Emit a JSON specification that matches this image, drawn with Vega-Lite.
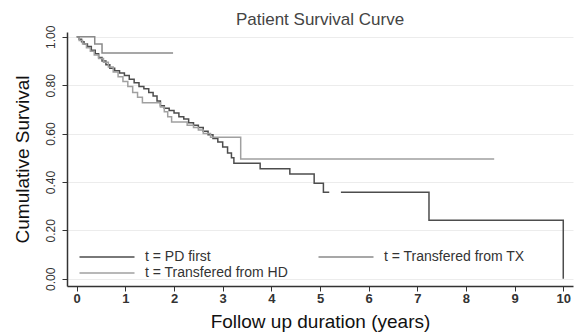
{
  "$schema": "https://vega.github.io/schema/vega-lite/v6.json",
  "autosize": "none",
  "padding": {"left": 67, "top": 32, "right": 6, "bottom": 49},
  "width": 506,
  "height": 254,
  "background": "white",
  "config": {
    "font": "Liberation Sans",
    "view": {"stroke": null}
  },
  "title": {
    "text": "Patient Survival Curve",
    "fontSize": 17,
    "fontWeight": "normal",
    "color": "#444444",
    "anchor": "middle",
    "offset": -4
  },
  "data": {
    "values": [
      {"g": "t = PD first", "seg": "a", "t": 0, "s": 1.0},
      {"g": "t = PD first", "seg": "a", "t": 0.05, "s": 0.99},
      {"g": "t = PD first", "seg": "a", "t": 0.1, "s": 0.98},
      {"g": "t = PD first", "seg": "a", "t": 0.15, "s": 0.97},
      {"g": "t = PD first", "seg": "a", "t": 0.22, "s": 0.96},
      {"g": "t = PD first", "seg": "a", "t": 0.3, "s": 0.945},
      {"g": "t = PD first", "seg": "a", "t": 0.38, "s": 0.93},
      {"g": "t = PD first", "seg": "a", "t": 0.45, "s": 0.915},
      {"g": "t = PD first", "seg": "a", "t": 0.52, "s": 0.9},
      {"g": "t = PD first", "seg": "a", "t": 0.6, "s": 0.885},
      {"g": "t = PD first", "seg": "a", "t": 0.68, "s": 0.87},
      {"g": "t = PD first", "seg": "a", "t": 0.78, "s": 0.86},
      {"g": "t = PD first", "seg": "a", "t": 0.88, "s": 0.85},
      {"g": "t = PD first", "seg": "a", "t": 0.98, "s": 0.84},
      {"g": "t = PD first", "seg": "a", "t": 1.08, "s": 0.825},
      {"g": "t = PD first", "seg": "a", "t": 1.18, "s": 0.81},
      {"g": "t = PD first", "seg": "a", "t": 1.28, "s": 0.795},
      {"g": "t = PD first", "seg": "a", "t": 1.38, "s": 0.785},
      {"g": "t = PD first", "seg": "a", "t": 1.48, "s": 0.77},
      {"g": "t = PD first", "seg": "a", "t": 1.57, "s": 0.755},
      {"g": "t = PD first", "seg": "a", "t": 1.65, "s": 0.735},
      {"g": "t = PD first", "seg": "a", "t": 1.72, "s": 0.715},
      {"g": "t = PD first", "seg": "a", "t": 1.8, "s": 0.705},
      {"g": "t = PD first", "seg": "a", "t": 1.9, "s": 0.695},
      {"g": "t = PD first", "seg": "a", "t": 2.0, "s": 0.685},
      {"g": "t = PD first", "seg": "a", "t": 2.1, "s": 0.67},
      {"g": "t = PD first", "seg": "a", "t": 2.2, "s": 0.66},
      {"g": "t = PD first", "seg": "a", "t": 2.3, "s": 0.645},
      {"g": "t = PD first", "seg": "a", "t": 2.4, "s": 0.635},
      {"g": "t = PD first", "seg": "a", "t": 2.5, "s": 0.625},
      {"g": "t = PD first", "seg": "a", "t": 2.6, "s": 0.61},
      {"g": "t = PD first", "seg": "a", "t": 2.7, "s": 0.595},
      {"g": "t = PD first", "seg": "a", "t": 2.8, "s": 0.58},
      {"g": "t = PD first", "seg": "a", "t": 2.9, "s": 0.565},
      {"g": "t = PD first", "seg": "a", "t": 3.0, "s": 0.545},
      {"g": "t = PD first", "seg": "a", "t": 3.1, "s": 0.52},
      {"g": "t = PD first", "seg": "a", "t": 3.18, "s": 0.5},
      {"g": "t = PD first", "seg": "a", "t": 3.23, "s": 0.477},
      {"g": "t = PD first", "seg": "a", "t": 3.77, "s": 0.455},
      {"g": "t = PD first", "seg": "a", "t": 4.38, "s": 0.433},
      {"g": "t = PD first", "seg": "a", "t": 4.88, "s": 0.395},
      {"g": "t = PD first", "seg": "a", "t": 5.07, "s": 0.358},
      {"g": "t = PD first", "seg": "a", "t": 5.19, "s": 0.358},
      {"g": "t = PD first", "seg": "b", "t": 5.43, "s": 0.358},
      {"g": "t = PD first", "seg": "b", "t": 7.24, "s": 0.242},
      {"g": "t = PD first", "seg": "b", "t": 10.0, "s": 0.0},
      {"g": "t = Transfered from HD", "seg": "a", "t": 0, "s": 1.0},
      {"g": "t = Transfered from HD", "seg": "a", "t": 0.05, "s": 0.985},
      {"g": "t = Transfered from HD", "seg": "a", "t": 0.12, "s": 0.97},
      {"g": "t = Transfered from HD", "seg": "a", "t": 0.2, "s": 0.955},
      {"g": "t = Transfered from HD", "seg": "a", "t": 0.28, "s": 0.94},
      {"g": "t = Transfered from HD", "seg": "a", "t": 0.36, "s": 0.925},
      {"g": "t = Transfered from HD", "seg": "a", "t": 0.45, "s": 0.91},
      {"g": "t = Transfered from HD", "seg": "a", "t": 0.55, "s": 0.895},
      {"g": "t = Transfered from HD", "seg": "a", "t": 0.65, "s": 0.875},
      {"g": "t = Transfered from HD", "seg": "a", "t": 0.75, "s": 0.855},
      {"g": "t = Transfered from HD", "seg": "a", "t": 0.85, "s": 0.835},
      {"g": "t = Transfered from HD", "seg": "a", "t": 0.95, "s": 0.815},
      {"g": "t = Transfered from HD", "seg": "a", "t": 1.05, "s": 0.795},
      {"g": "t = Transfered from HD", "seg": "a", "t": 1.15, "s": 0.77},
      {"g": "t = Transfered from HD", "seg": "a", "t": 1.25, "s": 0.75},
      {"g": "t = Transfered from HD", "seg": "a", "t": 1.35, "s": 0.728},
      {"g": "t = Transfered from HD", "seg": "a", "t": 1.72, "s": 0.71},
      {"g": "t = Transfered from HD", "seg": "a", "t": 1.8, "s": 0.69},
      {"g": "t = Transfered from HD", "seg": "a", "t": 1.87, "s": 0.67},
      {"g": "t = Transfered from HD", "seg": "a", "t": 1.95, "s": 0.648},
      {"g": "t = Transfered from HD", "seg": "a", "t": 2.27, "s": 0.635},
      {"g": "t = Transfered from HD", "seg": "a", "t": 2.4, "s": 0.625},
      {"g": "t = Transfered from HD", "seg": "a", "t": 2.5, "s": 0.615},
      {"g": "t = Transfered from HD", "seg": "a", "t": 2.6, "s": 0.6},
      {"g": "t = Transfered from HD", "seg": "a", "t": 2.75, "s": 0.585},
      {"g": "t = Transfered from HD", "seg": "a", "t": 3.37, "s": 0.495},
      {"g": "t = Transfered from HD", "seg": "a", "t": 8.58, "s": 0.495},
      {"g": "t = Transfered from TX", "seg": "a", "t": 0, "s": 1.0},
      {"g": "t = Transfered from TX", "seg": "a", "t": 0.37, "s": 0.97},
      {"g": "t = Transfered from TX", "seg": "a", "t": 0.52, "s": 0.933},
      {"g": "t = Transfered from TX", "seg": "a", "t": 1.98, "s": 0.933}
    ]
  },
  "mark": {"type": "line", "interpolate": "step-after", "strokeWidth": 1.5, "clip": true},
  "encoding": {
    "x": {
      "field": "t",
      "type": "quantitative",
      "scale": {"domain": [-0.2, 10.2], "nice": false, "zero": false},
      "axis": {
        "values": [0, 1, 2, 3, 4, 5, 6, 7, 8, 9, 10],
        "title": "Follow up duration (years)",
        "titleFontSize": 19,
        "titleFontWeight": "normal",
        "titleColor": "#111111",
        "titlePadding": 7,
        "labelFontSize": 13,
        "labelFontWeight": "bold",
        "labelColor": "#333333",
        "labelPadding": 1,
        "tickSize": 5,
        "tickColor": "#333333",
        "domainColor": "#333333",
        "domainWidth": 1.5,
        "grid": false
      }
    },
    "y": {
      "field": "s",
      "type": "quantitative",
      "scale": {"domain": [-0.03, 1.02], "nice": false, "zero": false},
      "axis": {
        "values": [0, 0.2, 0.4, 0.6, 0.8, 1.0],
        "format": ".2f",
        "title": "Cumulative Survival",
        "titleFontSize": 19,
        "titleFontWeight": "normal",
        "titleColor": "#111111",
        "titlePadding": 12,
        "labelAngle": 270,
        "labelAlign": "center",
        "labelBaseline": "bottom",
        "labelFontSize": 12,
        "labelColor": "#333333",
        "labelPadding": 5,
        "tickSize": 5,
        "tickColor": "#333333",
        "domainColor": "#333333",
        "domainWidth": 1.5,
        "grid": true,
        "gridColor": "#ececec",
        "gridWidth": 1
      }
    },
    "detail": {"field": "seg"},
    "color": {
      "field": "g",
      "type": "nominal",
      "scale": {
        "domain": ["t = PD first", "t = Transfered from TX", "t = Transfered from HD"],
        "range": ["#4d4d4d", "#8a8a8a", "#a0a0a0"]
      },
      "legend": {
        "orient": "none",
        "legendX": 33,
        "legendY": 218,
        "direction": "horizontal",
        "columns": 2,
        "columnPadding": 26,
        "rowPadding": 2,
        "padding": 0,
        "title": null,
        "symbolType": "M-5,0L5,0",
        "symbolSize": 121,
        "symbolStrokeWidth": 1.5,
        "symbolFillColor": "transparent",
        "labelFontSize": 14,
        "labelColor": "#333333",
        "labelOffset": 31,
        "labelLimit": 300
      }
    }
  }
}
